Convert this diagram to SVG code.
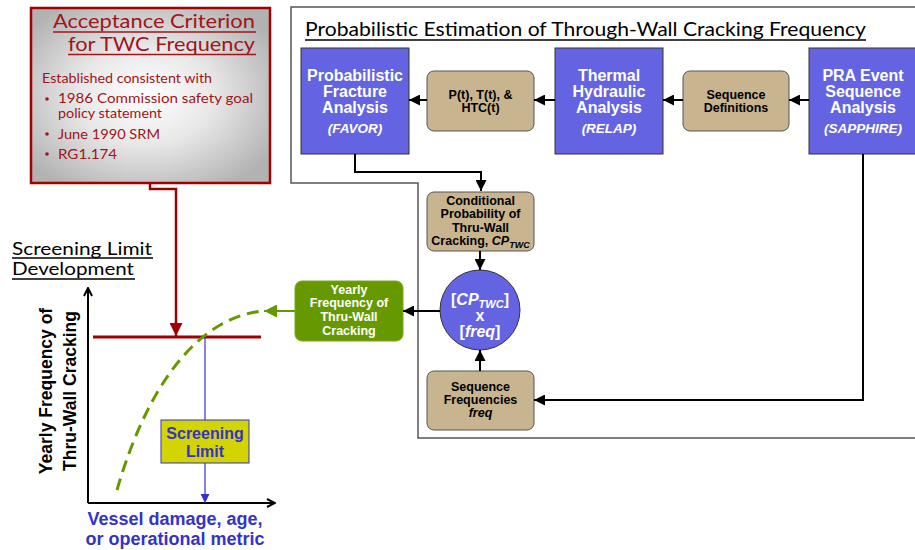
<svg xmlns="http://www.w3.org/2000/svg" width="915" height="550" viewBox="0 0 915 550">
<defs>
<radialGradient id="gray" cx="0.48" cy="0.5" r="0.62">
<stop offset="0" stop-color="#ffffff"/>
<stop offset="0.45" stop-color="#e8e8e8"/>
<stop offset="1" stop-color="#b2b2b2"/>
</radialGradient>
<marker id="ab" viewBox="0 0 10 10" refX="10" refY="5" markerWidth="11" markerHeight="11" markerUnits="userSpaceOnUse" orient="auto"><path d="M0,0 L10,5 L0,10 z" fill="#000"/></marker>
<marker id="ar" viewBox="0 0 10 10" refX="10" refY="5" markerWidth="13" markerHeight="13" markerUnits="userSpaceOnUse" orient="auto"><path d="M0,0 L10,5 L0,10 z" fill="#a00000"/></marker>
<marker id="ag" viewBox="0 0 10 10" refX="10" refY="5" markerWidth="13" markerHeight="13" markerUnits="userSpaceOnUse" orient="auto"><path d="M0,0 L10,5 L0,10 z" fill="#669900"/></marker>
<marker id="abl" viewBox="0 0 10 10" refX="10" refY="5" markerWidth="9" markerHeight="9" markerUnits="userSpaceOnUse" orient="auto"><path d="M0,0 L10,5 L0,10 z" fill="#3333cc"/></marker>
<marker id="ao" viewBox="0 0 10 10" refX="9" refY="5" markerWidth="10" markerHeight="10" markerUnits="userSpaceOnUse" orient="auto"><path d="M1,1 L9,5 L1,9" fill="none" stroke="#000" stroke-width="2"/></marker>
</defs>
<style>
.fut{font-family:Lato,"Open Sans","DejaVu Sans",sans-serif}
.red{fill:#a0141a}
.b{font-family:"Liberation Sans",Arial,sans-serif;font-weight:bold}
.wt{fill:#fff}
.bk{fill:#000}
.blue{fill:#6464e2;stroke:#333;stroke-width:1}
.tan{fill:#c8b48e;stroke:#555;stroke-width:1}
.conn{fill:none;stroke:#000;stroke-width:2}
</style>

<!-- outline of estimation panel -->
<path d="M916,7 H291 V183 H418 V438 H916" fill="none" stroke="#555" stroke-width="1.5"/>
<text class="fut" x="305" y="36" font-size="19" fill="#000" textLength="561" lengthAdjust="spacingAndGlyphs">Probabilistic Estimation of Through-Wall Cracking Frequency</text>
<line x1="305" y1="40" x2="866" y2="40" stroke="#000" stroke-width="1.3"/>

<!-- Acceptance criterion -->
<g id="acceptance">
<rect x="31" y="8" width="239" height="175" fill="url(#gray)" stroke="#a00000" stroke-width="2.5"/>
<text class="fut red" x="255" y="28" font-size="20" text-anchor="end" textLength="202" lengthAdjust="spacingAndGlyphs">Acceptance Criterion</text>
<line x1="53" y1="32" x2="256" y2="32" stroke="#a0141a" stroke-width="1.5"/>
<text class="fut red" x="255" y="51" font-size="20" text-anchor="end" textLength="187" lengthAdjust="spacingAndGlyphs">for TWC Frequency</text>
<line x1="68" y1="54.5" x2="256" y2="54.5" stroke="#a0141a" stroke-width="1.5"/>
<text class="fut red" x="42" y="83" font-size="14" textLength="170" lengthAdjust="spacingAndGlyphs">Established consistent with</text>
<circle cx="47" cy="99" r="1.8" fill="#a0141a"/>
<text class="fut red" x="58" y="103" font-size="14" textLength="195" lengthAdjust="spacingAndGlyphs">1986 Commission safety goal</text>
<text class="fut red" x="58" y="118" font-size="14" textLength="104" lengthAdjust="spacingAndGlyphs">policy statement</text>
<circle cx="47" cy="134" r="1.8" fill="#a0141a"/>
<text class="fut red" x="58" y="139" font-size="14" textLength="102" lengthAdjust="spacingAndGlyphs">June 1990 SRM</text>
<circle cx="47" cy="154" r="1.8" fill="#a0141a"/>
<text class="fut red" x="58" y="159" font-size="14" textLength="59" lengthAdjust="spacingAndGlyphs">RG1.174</text>
</g>

<!-- Screening limit development chart -->
<g id="chart">
<text class="fut" x="12" y="255" font-size="18" fill="#000" textLength="140" lengthAdjust="spacingAndGlyphs">Screening Limit</text>
<line x1="12" y1="258" x2="153" y2="258" stroke="#000" stroke-width="1.3"/>
<text class="fut" x="12" y="275" font-size="18" fill="#000" textLength="122" lengthAdjust="spacingAndGlyphs">Development</text>
<line x1="12" y1="279" x2="135" y2="279" stroke="#000" stroke-width="1.3"/>
<line x1="88" y1="503" x2="88" y2="288" stroke="#000" stroke-width="2" marker-end="url(#ao)"/>
<line x1="88" y1="503" x2="275" y2="503" stroke="#000" stroke-width="2" marker-end="url(#ao)"/>
<text class="b bk" transform="translate(52,391) rotate(-90)" font-size="17.5" text-anchor="middle">Yearly Frequency of</text>
<text class="b bk" transform="translate(76,391) rotate(-90)" font-size="17.5" text-anchor="middle">Thru-Wall Cracking</text>
<line x1="93" y1="337" x2="261" y2="337" stroke="#a00000" stroke-width="3"/>
<path d="M117,490 C140,410 185,320 262,311" fill="none" stroke="#669900" stroke-width="3" stroke-dasharray="12,7"/>
<line x1="205" y1="337" x2="205" y2="503" stroke="#3333cc" stroke-width="1.2" marker-end="url(#abl)"/>
<text class="b" x="175" y="525" font-size="18" fill="#3333cc" text-anchor="middle">Vessel damage, age,</text>
<text class="b" x="175" y="545" font-size="18" fill="#3333cc" text-anchor="middle">or operational metric</text>
</g>
<g id="screening">
<rect x="161" y="420" width="88" height="43" fill="#d4d400" stroke="#3333cc" stroke-width="1"/>
<text class="b" x="205" y="439" font-size="16" fill="#3333cc" text-anchor="middle">Screening</text>
<text class="b" x="205" y="457" font-size="16" fill="#3333cc" text-anchor="middle">Limit</text>
</g>

<!-- process nodes -->
<g id="favor">
<rect class="blue" x="301" y="48" width="108" height="106"/>
<g class="b wt" font-size="16" text-anchor="middle">
<text x="355" y="81">Probabilistic</text>
<text x="355" y="97">Fracture</text>
<text x="355" y="113">Analysis</text>
<text x="355" y="133" font-size="13.5" font-style="italic">(FAVOR)</text>
</g>
</g>
<g id="pth">
<rect class="tan" x="427" y="71" width="107" height="60" rx="7"/>
<g class="b bk" font-size="12.5" text-anchor="middle">
<text x="480.5" y="99">P(t), T(t), &amp;</text>
<text x="480.5" y="112">HTC(t)</text>
</g>
</g>
<g id="relap">
<rect class="blue" x="555" y="48" width="108" height="106"/>
<g class="b wt" font-size="16" text-anchor="middle">
<text x="609" y="81">Thermal</text>
<text x="609" y="97">Hydraulic</text>
<text x="609" y="113">Analysis</text>
<text x="609" y="133" font-size="13.5" font-style="italic">(RELAP)</text>
</g>
</g>
<g id="seqdef">
<rect class="tan" x="683" y="71" width="106" height="60" rx="7"/>
<g class="b bk" font-size="12.5" text-anchor="middle">
<text x="736" y="99">Sequence</text>
<text x="736" y="112">Definitions</text>
</g>
</g>
<g id="sapphire">
<rect class="blue" x="809" y="48" width="108" height="106"/>
<g class="b wt" font-size="16" text-anchor="middle">
<text x="863" y="81">PRA Event</text>
<text x="863" y="97">Sequence</text>
<text x="863" y="113">Analysis</text>
<text x="863" y="133" font-size="13.5" font-style="italic">(SAPPHIRE)</text>
</g>
</g>
<g id="condprob">
<rect class="tan" x="427" y="192" width="107" height="59" rx="7"/>
<g class="b bk" font-size="12.5" text-anchor="middle">
<text x="480.5" y="205">Conditional</text>
<text x="480.5" y="218">Probability of</text>
<text x="480.5" y="232">Thru-Wall</text>
<text x="480.5" y="245">Cracking, <tspan font-style="italic">CP</tspan><tspan font-style="italic" font-size="9" dy="3">TWC</tspan></text>
</g>
</g>
<g id="product">
<circle cx="480" cy="310" r="40" fill="#6464e2" stroke="#333" stroke-width="1"/>
<g class="b wt" font-size="16" text-anchor="middle">
<text x="480" y="305">[<tspan font-style="italic">CP</tspan><tspan font-style="italic" font-size="11" dy="3">TWC</tspan><tspan dy="-3">]</tspan></text>
<text x="480" y="321">x</text>
<text x="480" y="337">[<tspan font-style="italic">freq</tspan>]</text>
</g>
</g>
<g id="seqfreq">
<rect class="tan" x="427" y="371" width="107" height="59" rx="7"/>
<g class="b bk" font-size="12.5" text-anchor="middle">
<text x="480.5" y="391">Sequence</text>
<text x="480.5" y="404">Frequencies</text>
<text x="480.5" y="417" font-style="italic">freq</text>
</g>
</g>
<g id="yearly">
<rect x="295" y="281" width="108" height="60" rx="7" fill="#669900" stroke="#7aa81a" stroke-width="1"/>
<g class="b wt" font-size="12.5" text-anchor="middle">
<text x="349" y="294">Yearly</text>
<text x="349" y="307">Frequency of</text>
<text x="349" y="321">Thru-Wall</text>
<text x="349" y="335">Cracking</text>
</g>
</g>

<!-- connectors -->
<g id="connectors">
<line class="conn" x1="427" y1="100" x2="409" y2="100" marker-end="url(#ab)"/>
<line class="conn" x1="555" y1="100" x2="534" y2="100" marker-end="url(#ab)"/>
<line class="conn" x1="683" y1="100" x2="663" y2="100" marker-end="url(#ab)"/>
<line class="conn" x1="809" y1="100" x2="789" y2="100" marker-end="url(#ab)"/>
<polyline class="conn" points="355,154 355,172 481,172 481,191" marker-end="url(#ab)"/>
<polyline class="conn" points="863,154 863,400 534,400" marker-end="url(#ab)"/>
<line class="conn" x1="480" y1="251" x2="480" y2="270" marker-end="url(#ab)"/>
<line class="conn" x1="480" y1="371" x2="480" y2="350" marker-end="url(#ab)"/>
<line class="conn" x1="440" y1="311" x2="403" y2="311" marker-end="url(#ab)"/>
<line x1="295" y1="311" x2="264" y2="311" stroke="#669900" stroke-width="2" marker-end="url(#ag)"/>
<polyline points="150,184 150,189 176,189 176,336" fill="none" stroke="#a00000" stroke-width="2.5" marker-end="url(#ar)"/>
</g>
</svg>
